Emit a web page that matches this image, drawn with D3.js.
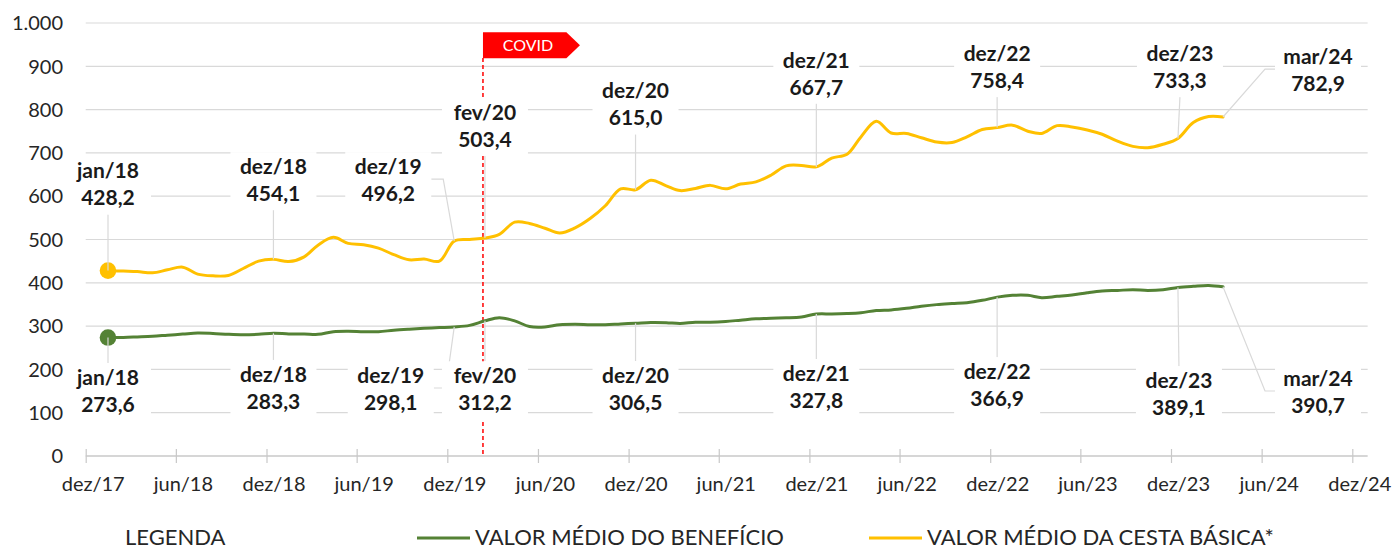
<!DOCTYPE html>
<html><head><meta charset="utf-8">
<script src="https://cdn.jsdelivr.net/npm/d3@7"></script>
<style>body{margin:0;background:#fff;} text{font-family:Lato, "Noto Sans", sans-serif;}</style>
</head><body><svg id="c" width="1396" height="550"></svg>
<script>
// ---- data ----
const firstMonth = [2018, 0]; // jan/18
const cesta = [428.2,427,426,423,430,436,420,416,417,433,
  450,454.1,449,460,487,505,491,488,480,465,
  453,455,450,496.2,500,503.4,512,540,537,526,
  515,527,549,578,617,615.0,637,624,613,618,
  625,617,628,633,649,670,671,667.7,688,697,
  737,773,746,745,735,725,724,737,754,758.4,
  764,750,745,763,760,753,743,727,715,712,
  720,733.3,770,784,782.9];
const beneficio = [273.6,273.8,275,276.5,279,281.5,284,283,281,280,
  281,283.3,282,282,281,287,288,287,287,290.5,
  293,295,296.6,298.1,301.7,312.2,319.5,312,299,298,
  303,304,303,303,305,306.5,308.5,308,306,309,
  309,310.7,313.7,316.8,318.3,319,321,327.8,328,329,
  331,336,337.4,341,345.8,349.6,352,354,359.5,366.9,
  371,371,365.6,368.7,371.8,377,381,382.4,384,382.4,
  384,389.1,392,394,390.7];
const monthNames = ["jan","fev","mar","abr","mai","jun","jul","ago","set","out","nov","dez"];
const yTicks = [0,100,200,300,400,500,600,700,800,900,1000];
// label layout: index into series, horizontal offset (px), baseline of first line (in y units), leader type
const cestaLabels = [
  {i:0, dx:0, ly:641, t:"v"},{i:11, dx:0, ly:651, t:"v"},{i:23, dx:-66, ly:651, t:"elbowR"},
  {i:25, dx:0, ly:776, t:"v"},{i:35, dx:0, ly:826, t:"v"},{i:47, dx:0, ly:897, t:"v"},
  {i:59, dx:0, ly:912, t:"v"},{i:71, dx:2, ly:912, t:"v"},{i:74, dx:95, ly:905, t:"elbowL"}];
const benefLabels = [
  {i:0, dx:0, ly:164, t:"v"},{i:11, dx:0, ly:171, t:"v"},{i:23, dx:-63.5, ly:168.6, t:"elbowR"},
  {i:25, dx:0, ly:168, t:"v"},{i:35, dx:0, ly:168.6, t:"v"},{i:47, dx:0, ly:173, t:"v"},
  {i:59, dx:0, ly:177, t:"v"},{i:71, dx:1, ly:156.4, t:"v"},{i:74, dx:95, ly:161.7, t:"elbowL"}];
const covidDate = new Date(2020,1,11);

// ---- setup ----
const svg = d3.select("#c");
const loc = d3.formatLocale({decimal:",", thousands:".", grouping:[3], currency:["R$",""]});
const fmtY = loc.format(",d"), fmtV = loc.format(",.1f");
const dates = cesta.map((_,i)=>new Date(firstMonth[0], firstMonth[1]+i, 15));
const mlab = d => monthNames[d.getMonth()] + "/" + String(d.getFullYear()).slice(2);

const x = d3.scaleTime().domain([new Date(2017,11,1), new Date(2024,11,1)]).range([85.7,1352.3]);
const y = d3.scaleLinear().domain([0,1000]).range([456,23]);
const xEnd = x(new Date(2025,0,1));
const x0 = x.range()[0];

// gridlines
svg.append("g").selectAll("line").data(yTicks.filter(v=>v>0)).join("line")
  .attr("x1",x0).attr("x2",xEnd).attr("y1",d=>y(d)).attr("y2",d=>y(d))
  .attr("stroke","#d9d9d9").attr("stroke-width",1.2);
// y labels
svg.append("g").selectAll("text").data(yTicks).join("text")
  .attr("x",63).attr("y",d=>y(d)).attr("dy","0.36em").attr("text-anchor","end")
  .attr("font-size",20).attr("fill","#262626").text(d=>fmtY(d));

// x axis
const tickDates = d3.range(15).map(k=>d3.timeMonth.offset(new Date(2017,11,1), 6*k));
const xa = svg.append("g").attr("transform","translate(0,456)")
  .call(d3.axisBottom(x).tickValues(tickDates).tickSize(7).tickFormat(mlab));
xa.select(".domain").attr("d",`M${x0},0H${xEnd}`).attr("stroke","#c8c8c8").attr("stroke-width",1.5);
xa.selectAll(".tick line").attr("y1",-7).attr("y2",7).attr("stroke","#c8c8c8").attr("stroke-width",1.2);
xa.selectAll(".tick text").attr("dy",null).attr("y",34.7).attr("dx",7)
  .attr("font-size",20).attr("font-family","Lato, sans-serif").attr("fill","#262626");

// COVID line
const cx = x(covidDate);
svg.append("line").attr("x1",cx).attr("x2",cx).attr("y1",58).attr("y2",456)
  .attr("stroke","#ff0000").attr("stroke-width",1.5).attr("stroke-dasharray","4,3");
svg.append("polygon").attr("points",
  `${cx},32.3 ${cx+83.4},32.3 ${cx+97},45.3 ${cx+83.4},58.3 ${cx},58.3`).attr("fill","#ff0000");
svg.append("text").attr("x",cx+45).attr("y",51).attr("text-anchor","middle")
  .attr("font-size",16).attr("fill","#fff").text("COVID");

// lines
const line = d3.line().x((d,i)=>x(dates[i])).y(d=>y(d)).curve(d3.curveCatmullRom.alpha(0.5));
const series = [{v:beneficio, c:"#548235", L:benefLabels, above:false},
                {v:cesta, c:"#FFC000", L:cestaLabels, above:true}];
series.forEach(s=>{
  svg.append("path").attr("d",line(s.v)).attr("fill","none").attr("stroke",s.c)
    .attr("stroke-width",3).attr("stroke-linejoin","round").attr("stroke-linecap","round");
  svg.append("circle").attr("cx",x(dates[0])).attr("cy",y(s.v[0])).attr("r",8.3).attr("fill",s.c);
});

// labels
const BW=86, lh=27;
series.forEach(s=>{
  const g = svg.append("g");
  s.L.forEach(L=>{
    const px = x(dates[L.i]), py = y(s.v[L.i]);
    const lx = px + L.dx, b1 = y(L.ly);
    const top = b1-22, bot = b1+lh+9, mid=(top+bot)/2;
    let pts;
    if (L.t==="v") {
      pts = s.above ? [[px,py],[px+L.dx,bot]] : [[px,py],[px+L.dx,top]];
    } else if (L.t==="elbowR") {
      pts = [[lx+BW/2,mid-2],[lx+BW/2+12,mid-2],[px,py]];
    } else {
      pts = [[lx-BW/2,mid-2],[lx-BW/2-10,mid-2],[px,py]];
    }
    g.append("path").attr("d",d3.line()(pts)).attr("fill","none").attr("stroke","#d9d9d9").attr("stroke-width",1.2);
    L.box=[lx-BW/2,top,BW,bot-top]; L.lx=lx; L.b1=b1;
  });
  s.L.forEach(L=>{
    g.append("rect").attr("x",L.box[0]).attr("y",L.box[1]).attr("width",L.box[2]).attr("height",L.box[3]).attr("fill","#fff");
    g.append("text").attr("x",L.lx).attr("y",L.b1).attr("text-anchor","middle").attr("font-size",21)
      .attr("font-weight","bold").attr("fill","#1a1a1a").text(mlab(dates[L.i]));
    g.append("text").attr("x",L.lx).attr("y",L.b1+lh).attr("text-anchor","middle").attr("font-size",21)
      .attr("font-weight","bold").attr("fill","#1a1a1a").text(fmtV(s.v[L.i]));
  });
});

// legend
const lg = svg.append("g");
lg.append("text").attr("x",125).attr("y",545).attr("font-size",22).attr("fill","#262626").text("LEGENDA");
[{c:"#548235", x1:417, t:"VALOR MÉDIO DO BENEFÍCIO"},{c:"#FFC000", x1:869, t:"VALOR MÉDIO DA CESTA BÁSICA*"}]
.forEach(d=>{
  lg.append("line").attr("x1",d.x1).attr("x2",d.x1+53).attr("y1",538).attr("y2",538).attr("stroke",d.c).attr("stroke-width",3);
  lg.append("text").attr("x",d.x1+58).attr("y",545).attr("font-size",22).attr("fill","#262626").text(d.t);
});
</script></body></html>
